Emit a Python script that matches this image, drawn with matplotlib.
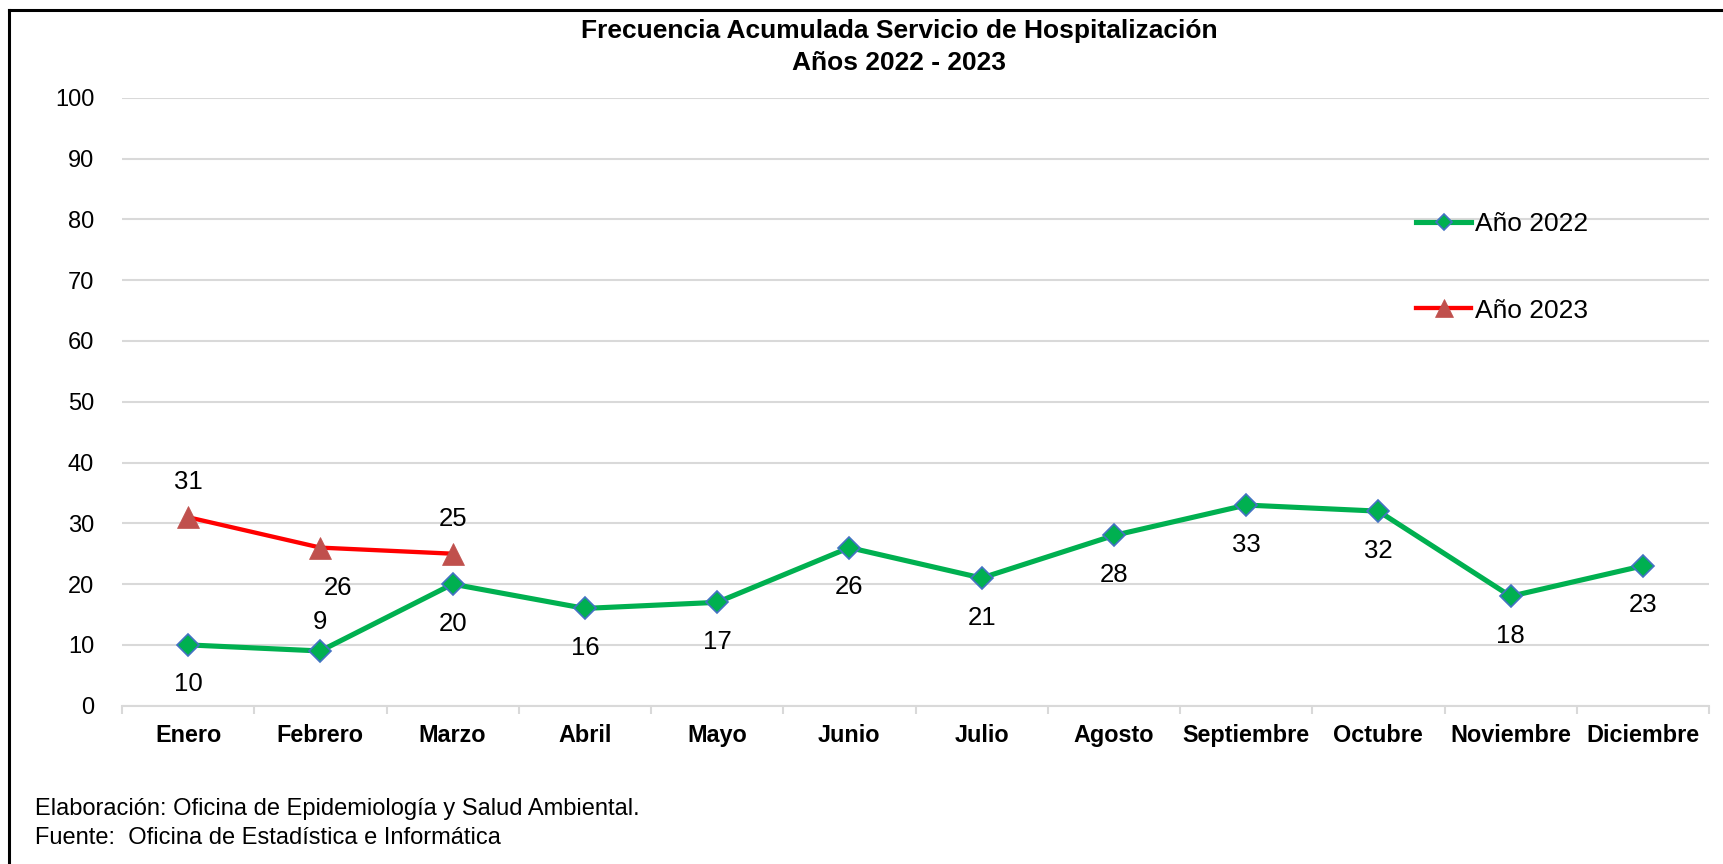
import matplotlib
matplotlib.use("Agg")
import matplotlib.pyplot as plt
from matplotlib.lines import Line2D
import numpy as np

plt.rcParams["font.family"] = ["Liberation Sans", "DejaVu Sans"]

MONTHS = ["Enero", "Febrero", "Marzo", "Abril", "Mayo", "Junio", "Julio",
          "Agosto", "Septiembre", "Octubre", "Noviembre", "Diciembre"]
VALUES_2022 = [10, 9, 20, 16, 17, 26, 21, 28, 33, 32, 18, 23]
VALUES_2023 = [31, 26, 25]
Y_TICKS = [0, 10, 20, 30, 40, 50, 60, 70, 80, 90, 100]

# label offsets in points (dx, dy)
OFFS_2022 = [(0, -28.5), (0, 20.6)] + [(0, -28.5)] * 10
OFFS_2023 = [(0, 25), (12.5, -29), (0, 25)]

GREEN = "#00B050"
RED = "#FF0000"
GRID = "#D9D9D9"

W, H = 1724, 864
fig = plt.figure(figsize=(W / 100, H / 100), dpi=100)
ax = fig.add_axes([122 / W, 1 - 705.7 / H, (1709 - 122) / W, (705.7 - 97.7) / H])

x = np.arange(len(MONTHS))
ax.plot(x, VALUES_2022, color=GREEN, lw=3.7, marker="D", ms=10.8,
        markerfacecolor=GREEN, markeredgecolor="#4472C4", markeredgewidth=1.2,
        label="Año 2022", zorder=3)
x23 = x[:len(VALUES_2023)]
ax.plot(x23, VALUES_2023, color=RED, lw=3.1, marker="^", ms=16.5,
        markerfacecolor="#C0504D", markeredgecolor="#C0504D", markeredgewidth=0.5,
        label="Año 2023", zorder=4)

for xi, v, (dx, dy) in zip(x, VALUES_2022, OFFS_2022):
    ax.annotate(str(v), (xi, v), xytext=(dx, dy), textcoords="offset points",
                ha="center", va="center", fontsize=18.5, color="black")
for xi, v, (dx, dy) in zip(x23, VALUES_2023, OFFS_2023):
    ax.annotate(str(v), (xi, v), xytext=(dx, dy), textcoords="offset points",
                ha="center", va="center", fontsize=18.5, color="black")

ax.set_xlim(-0.5, len(MONTHS) - 0.5)
ax.set_ylim(0, 100)
ax.set_yticks(Y_TICKS)
ax.set_yticklabels([str(t) for t in Y_TICKS], fontsize=17)
ax.set_xticks(x)
ax.set_xticklabels(MONTHS, fontsize=16.8, fontweight="bold")
ax.set_xticks(np.arange(-0.5, len(MONTHS)), minor=True)
ax.tick_params(axis="x", which="major", length=0, pad=13)
ax.tick_params(axis="x", which="minor", length=6, color=GRID, width=1.5, direction="out")
ax.tick_params(axis="y", length=0, pad=20)

ax.grid(axis="y", color=GRID, lw=1.5)
ax.set_axisbelow(True)
for s in ["top", "right", "left"]:
    ax.spines[s].set_visible(False)
ax.spines["bottom"].set_color(GRID)
ax.spines["bottom"].set_linewidth(1.5)

ax.legend(loc="upper left", bbox_to_anchor=(1416 / W, 1 - 212 / H),
          bbox_transform=fig.transFigure, frameon=False, fontsize=19,
          handlelength=2.1, handletextpad=0.15, labelspacing=2.37,
          borderpad=0, borderaxespad=0, markerscale=0.75)

fig.text(899 / W, 1 - 31 / H, "Frecuencia Acumulada Servicio de Hospitalización",
         ha="center", va="center", fontsize=19, fontweight="bold")
fig.text(899 / W, 1 - 63 / H, "Años 2022 - 2023",
         ha="center", va="center", fontsize=19, fontweight="bold")

fig.text(35 / W, 1 - 809 / H, "Elaboración: Oficina de Epidemiología y Salud Ambiental.",
         ha="left", va="center", fontsize=17)
fig.text(35 / W, 1 - 838 / H, "Fuente:  Oficina de Estadística e Informática",
         ha="left", va="center", fontsize=17)

# outer frame (only top and left edges are visible in the image)
fig.add_artist(Line2D([9 / W, 9 / W], [-0.1, 1 - 10 / H], color="black", lw=2.2,
                      transform=fig.transFigure))
fig.add_artist(Line2D([9 / W, 1.1], [1 - 10 / H, 1 - 10 / H], color="black", lw=2.2,
                      transform=fig.transFigure))

fig.savefig("out.png", dpi=100)
